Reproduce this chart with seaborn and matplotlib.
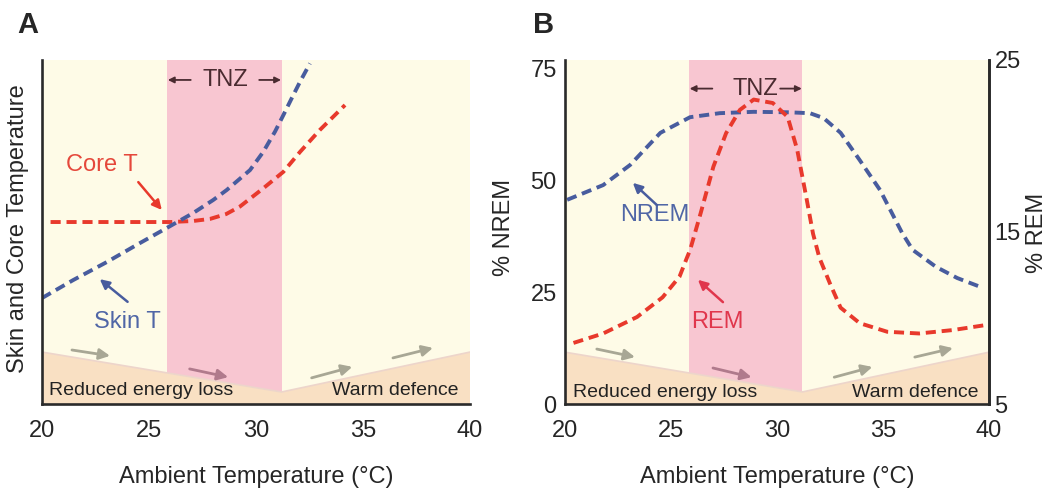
import matplotlib
matplotlib.use("Agg")
import matplotlib.pyplot as plt
import seaborn as sns
import pandas as pd
from matplotlib.patches import Polygon

sns.set_style("white")
plt.rcParams['font.family'] = ['Liberation Sans', 'DejaVu Sans']

# ---------------- data ----------------
# Panel A (arbitrary temperature units 0-100)
skin_x = [20.0, 21.45, 23.04, 24.58, 25.84, 27.06, 28.0, 28.63, 29.72, 30.34, 30.89,
          31.28, 31.67, 32.06, 32.52]
skin_y = [30.8, 36.0, 41.3, 46.8, 51.2, 55.5, 59.3, 62.2, 68.0, 73.3, 79.2,
          84.0, 88.9, 93.7, 99.0]
core_x = [20.4, 22.0, 24.0, 26.0, 27.06, 27.85, 28.6, 29.25, 30.34, 31.28, 32.06, 32.99, 34.16]
core_y = [52.9, 52.9, 52.9, 52.9, 53.2, 53.8, 55.2, 57.4, 62.7, 67.5, 73.3, 79.7, 86.9]

# Panel B
nrem_x = [20.1, 21.8, 23.07, 24.5, 25.9, 27.3, 28.9, 30.5, 31.55, 32.2, 33.0, 33.9,
          34.86, 35.9, 36.4, 37.5, 38.5, 39.6]
nrem_y = [45.7, 49.0, 53.5, 60.7, 64.2, 65.1, 65.4, 65.3, 65.1, 64.0, 60.7, 54.6,
          47.9, 38.3, 34.5, 30.7, 28.2, 26.2]
rem_x = [20.4, 21.8, 23.4, 24.6, 25.4, 25.75, 25.9, 26.4, 27.0, 27.6, 28.25, 28.9,
         29.8, 30.5, 30.95, 31.4, 31.7, 32.0, 32.5, 33.0, 33.9, 35.2, 36.7, 38.3, 39.9]
rem_y = [8.55, 9.1, 10.06, 11.2, 12.4, 13.5, 13.95, 16.1, 18.8, 20.75, 22.1, 22.7,
         22.5, 21.7, 19.8, 16.9, 14.9, 13.5, 12.0, 10.6, 9.7, 9.2, 9.1, 9.3, 9.6]

x_ticks = [20, 25, 30, 35, 40]
nrem_ticks = [0, 25, 50, 75]
rem_ticks = [5, 15, 25]
tnz_range = [25.85, 31.2]

# zone boundary (top of the lower shaded band), per panel units
zone_x = [20, 31.2, 40]
zoneA_y = [15.1, 3.5, 15.1]
zoneB_y = [11.6, 2.7, 11.6]

# ---------------- style ----------------
CREAM = "#FEFBE7"
PINK = "#F8C6D1"
TAN = "#F9E0C3"
RED = "#E8392C"
BLUE = "#485C9E"
RED_TXT = "#E5483B"
REM_TXT = "#E0364C"
BLUE_TXT = "#5066A6"
DARK = "#2A2A2A"
TNZ_C = "#4A2B30"
GREY_ARROW = "#A8A795"
PINK_ARROW = "#B07A8C"
FS = 17

fig = plt.figure(figsize=(10.47, 4.9), dpi=100)
axA = fig.add_axes([42/1047, 86/490, 428/1047, 344/490])
axB = fig.add_axes([565/1047, 86/490, 424/1047, 344/490])


def base(ax, ymax, zone_y):
    ax.set_facecolor(CREAM)
    ax.set_xlim(20, 40)
    ax.set_ylim(0, ymax)
    ax.axvspan(tnz_range[0], tnz_range[1], color=PINK, lw=0, zorder=0.5)
    poly = Polygon([(zone_x[0], 0)] + list(zip(zone_x, zone_y)) + [(zone_x[-1], 0)],
                   closed=True, facecolor=TAN, edgecolor="none", zorder=0.6)
    ax.add_patch(poly)
    ax.plot(zone_x, zone_y, color="#EDD5CB", lw=1.2, zorder=0.7)
    ax.set_xticks(x_ticks)
    ax.tick_params(axis='x', direction='out', length=7.5, width=1.8, color=DARK,
                   labelsize=FS, pad=4)
    ax.tick_params(axis='y', length=0, labelsize=FS, pad=6)
    ax.spines['top'].set_visible(False)
    for s in ['left', 'bottom', 'right']:
        ax.spines[s].set_linewidth(1.9)
        ax.spines[s].set_color(DARK)


def arrow(ax, x0, y0, x1, y1, color, lw=2.0, ms=16):
    ax.annotate("", xy=(x1, y1), xytext=(x0, y0),
                arrowprops=dict(arrowstyle='-|>', color=color, lw=lw,
                                mutation_scale=ms, shrinkA=0, shrinkB=0), zorder=3)


def tnz(ax, xc, y):
    ax.text(xc, y, "TNZ", ha='center', va='center', fontsize=FS, color=TNZ_C, zorder=4)
    arrow(ax, tnz_range[0] + 1.1, y, tnz_range[0] + 0.03, y, TNZ_C, lw=1.3, ms=9)
    arrow(ax, tnz_range[1] - 1.05, y, tnz_range[1] - 0.03, y, TNZ_C, lw=1.3, ms=9)


def dashed(ax, xs, ys, color):
    df = pd.DataFrame({"x": xs, "y": ys})
    n = len(ax.lines)
    sns.lineplot(data=df, x="x", y="y", ax=ax, color=color, linewidth=2.8,
                 estimator=None, sort=False, zorder=2)
    ln = ax.lines[n]
    ln.set_dashes([2.6, 1.5])
    ln.set_dash_capstyle('butt')
    ax.set_ylabel("")
    ax.set_xlabel("Ambient Temperature (°C)", fontsize=FS, labelpad=17)


# ---------------- Panel A ----------------
base(axA, 100, zoneA_y)
axA.spines['right'].set_visible(False)
axA.set_yticks([])
dashed(axA, core_x, core_y, RED)
dashed(axA, skin_x, skin_y, BLUE)
tnz(axA, 28.55, 94.2)
axA.text(22.8, 69.5, "Core T", ha='center', va='center', fontsize=FS, color=RED_TXT)
arrow(axA, 24.5, 64.5, 25.6, 56.4, RED, lw=1.8, ms=14)
axA.text(24.0, 23.8, "Skin T", ha='center', va='center', fontsize=FS, color=BLUE_TXT)
arrow(axA, 24.0, 29.7, 22.7, 36.3, BLUE, lw=1.8, ms=14)
arrow(axA, 21.4, 15.7, 23.18, 14.0, GREY_ARROW)
arrow(axA, 26.9, 10.2, 28.7, 7.8, PINK_ARROW)
arrow(axA, 32.6, 7.6, 34.5, 10.8, GREY_ARROW)
arrow(axA, 36.4, 13.4, 38.27, 16.3, GREY_ARROW)
axA.text(20.33, 3.8, "Reduced energy loss", ha='left', va='center', fontsize=14, color="#222222")
axA.text(39.44, 3.8, "Warm defence", ha='right', va='center', fontsize=14, color="#222222")

# ---------------- Panel B ----------------
base(axB, 77, zoneB_y)
axB.set_yticks(nrem_ticks)
axB.set_yticklabels([str(t) for t in nrem_ticks])
dashed(axB, nrem_x, nrem_y, BLUE)
axB2 = axB.twinx()
axB2.set_ylim(5, 25)
axB2.set_yticks(rem_ticks)
axB2.tick_params(axis='y', length=0, labelsize=FS, pad=4)
for s in ['top', 'left', 'bottom']:
    axB2.spines[s].set_visible(False)
axB2.spines['right'].set_linewidth(1.9)
axB2.spines['right'].set_color(DARK)
dashed(axB2, rem_x, rem_y, RED)
axB2.set_xlabel("")
tnz(axB, 28.96, 70.6)
axB.text(24.25, 42.3, "NREM", ha='center', va='center', fontsize=FS, color=BLUE_TXT)
arrow(axB, 24.34, 44.5, 23.2, 49.5, BLUE, lw=1.8, ms=14)
axB.text(27.2, 18.4, "REM", ha='center', va='center', fontsize=FS, color=REM_TXT)
arrow(axB, 27.45, 22.8, 26.27, 27.8, REM_TXT, lw=1.8, ms=14)
arrow(axB, 21.5, 12.3, 23.3, 10.5, GREY_ARROW)
arrow(axB, 26.98, 8.06, 28.8, 6.0, PINK_ARROW)
arrow(axB, 32.7, 6.0, 34.5, 8.3, GREY_ARROW)
arrow(axB, 36.5, 10.5, 38.3, 12.5, GREY_ARROW)
axB.text(20.38, 2.6, "Reduced energy loss", ha='left', va='center', fontsize=14, color="#222222")
axB.text(39.5, 2.6, "Warm defence", ha='right', va='center', fontsize=14, color="#222222")

# y-axis titles
fig.text(18/1047, 1 - 229/490, "Skin and Core Temperature", rotation=90,
         fontsize=FS, ha='center', va='center')
fig.text(504/1047, 1 - 227/490, "% NREM", rotation=90, fontsize=FS, ha='center', va='center')
fig.text(1037/1047, 1 - 233/490, "% REM", rotation=90, fontsize=FS, ha='center', va='center')

fig.text(28/1047, 1 - 25/490, "A", fontsize=21, fontweight='bold', ha='center', va='center')
fig.text(544/1047, 1 - 25/490, "B", fontsize=21, fontweight='bold', ha='center', va='center')

fig.savefig("out.png", dpi=100)
